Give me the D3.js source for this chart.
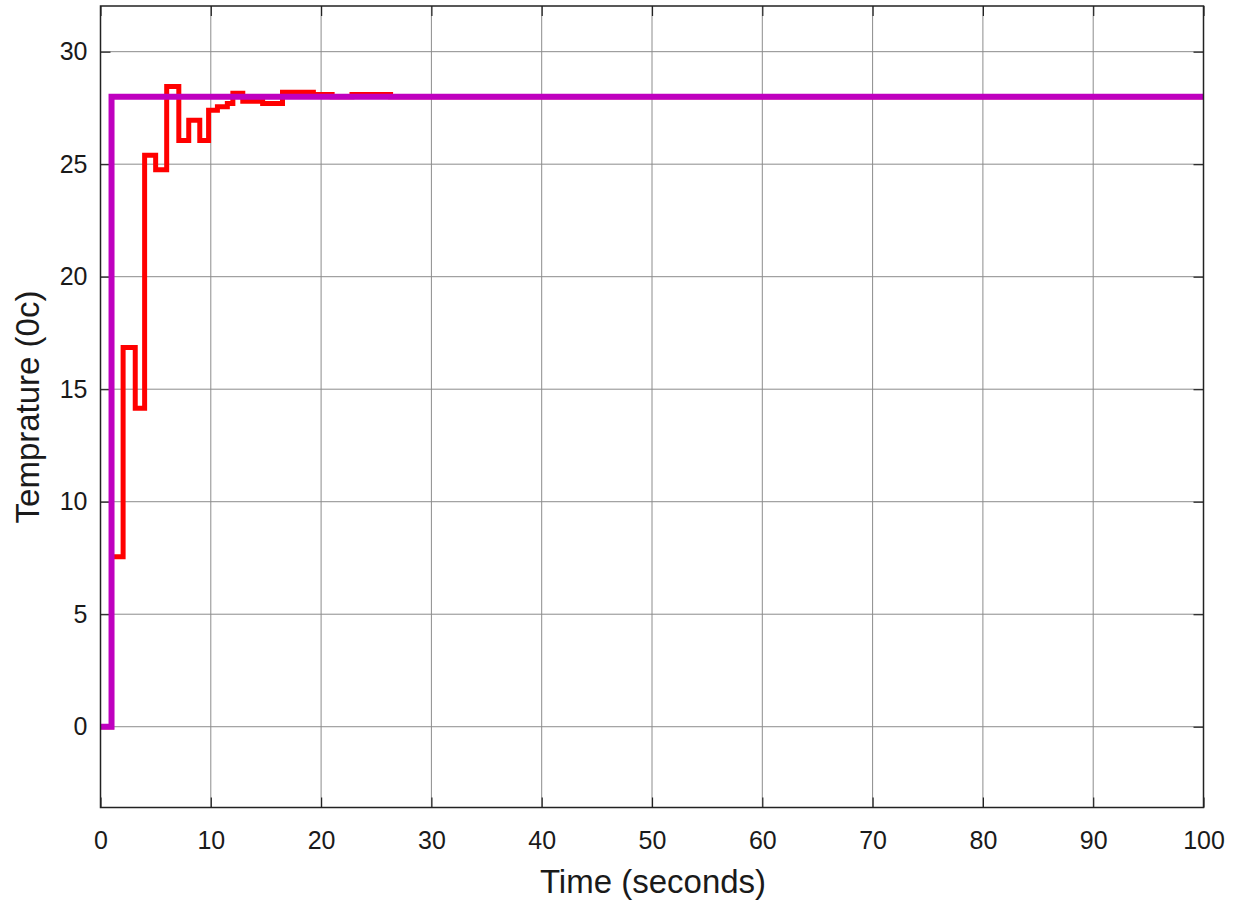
<!DOCTYPE html>
<html>
<head>
<meta charset="utf-8">
<script src="https://cdn.jsdelivr.net/npm/d3@7"></script>
<style>
  html, body { margin: 0; padding: 0; background: #ffffff; }
  svg { display: block; font-family: "Liberation Sans", Arial, sans-serif; }
</style>
</head>
<body>
<svg id="chart" width="1236" height="905"></svg>
<script>
// ---- data ----
const xTicks = [0, 10, 20, 30, 40, 50, 60, 70, 80, 90, 100];
const yTicks = [0, 5, 10, 15, 20, 25, 30];
// setpoint (stairs): time of change, value
const setTimes  = [0, 1, 100];
const setValues = [0, 28, 28];
// measured temperature (stairs): time of change, value
const tempTimes  = [0, 1, 2.05, 3.15, 4.0, 5.0, 6.0, 7.1, 8.0, 9.0, 9.8, 10.6, 11.5, 12.0, 12.9, 14.7, 16.5, 19.3, 21.0, 22.8, 26.3, 100];
const tempValues = [0, 7.55, 16.85, 14.15, 25.4, 24.75, 28.45, 26.05, 26.95, 26.05, 27.4, 27.55, 27.7, 28.15, 27.8, 27.7, 28.2, 28.1, 28.0, 28.1, 28.0, 28.0];

// ---- layout ----
const svg = d3.select("#chart");
const L = 100.5, R = 1203.5, T = 6, B = 807.5;
const x = d3.scaleLinear().domain([0, 100]).range([L, R]);
const y = d3.scaleLinear().domain([-3.59, 32.03]).range([B, T]);

// grid
const g = svg.append("g");
g.selectAll(".gx").data(xTicks.slice(1, -1)).enter().append("line")
  .attr("x1", d => x(d)).attr("x2", d => x(d)).attr("y1", T).attr("y2", B)
  .attr("stroke", "#8c8c8c").attr("stroke-width", 1);
g.selectAll(".gy").data(yTicks).enter().append("line")
  .attr("x1", L).attr("x2", R).attr("y1", d => y(d)).attr("y2", d => y(d))
  .attr("stroke", "#8c8c8c").attr("stroke-width", 1);

// axes with inward ticks
const xAxis = d3.axisBottom(x).tickValues(xTicks).tickSizeInner(-10).tickSizeOuter(0).tickPadding(24);
const yAxis = d3.axisLeft(y).tickValues(yTicks).tickSizeInner(-10).tickSizeOuter(0).tickPadding(13);
const ax = svg.append("g").attr("transform", `translate(0,${B})`).call(xAxis);
const ay = svg.append("g").attr("transform", `translate(${L},0)`).call(yAxis);
[ax, ay].forEach(a => {
  a.select(".domain").remove();
  a.selectAll(".tick line").attr("stroke", "#222").attr("stroke-width", 1.2);
  a.selectAll(".tick text").attr("fill", "#1a1a1a").style("font-size", "25px");
});
// top/right ticks as well
svg.append("g").attr("transform", `translate(0,${T})`)
  .call(d3.axisTop(x).tickValues(xTicks).tickSizeInner(-10).tickSizeOuter(0).tickFormat(""))
  .call(a => { a.select(".domain").remove(); a.selectAll(".tick line").attr("stroke", "#222").attr("stroke-width", 1.2); });
svg.append("g").attr("transform", `translate(${R},0)`)
  .call(d3.axisRight(y).tickValues(yTicks).tickSizeInner(-10).tickSizeOuter(0).tickFormat(""))
  .call(a => { a.select(".domain").remove(); a.selectAll(".tick line").attr("stroke", "#222").attr("stroke-width", 1.2); });

// clip
svg.append("clipPath").attr("id", "clip").append("rect")
  .attr("x", L).attr("y", T).attr("width", R - L).attr("height", B - T);

const line = d3.line().x(d => x(d[0])).y(d => y(d[1])).curve(d3.curveStepAfter);
const plot = svg.append("g").attr("clip-path", "url(#clip)");
plot.append("path")
  .datum(tempTimes.map((t, i) => [t, tempValues[i]]))
  .attr("d", line).attr("fill", "none").attr("stroke", "#ff0000")
  .attr("stroke-width", 5).attr("stroke-linejoin", "miter");
plot.append("path")
  .datum(setTimes.map((t, i) => [t, setValues[i]]))
  .attr("d", line).attr("fill", "none").attr("stroke", "#bf00bf")
  .attr("stroke-width", 6).attr("stroke-linejoin", "miter");

// frame
svg.append("rect").attr("x", L).attr("y", T).attr("width", R - L).attr("height", B - T)
  .attr("fill", "none").attr("stroke", "#222").attr("stroke-width", 1.5);

// titles
svg.append("text").attr("x", 653).attr("y", 893).attr("text-anchor", "middle")
  .style("font-size", "33px").attr("fill", "#1a1a1a").text("Time (seconds)");
svg.append("text").attr("transform", "translate(39,407) rotate(-90)").attr("text-anchor", "middle")
  .style("font-size", "33px").attr("fill", "#1a1a1a").text("Temprature (0c)");
</script>
</body>
</html>
